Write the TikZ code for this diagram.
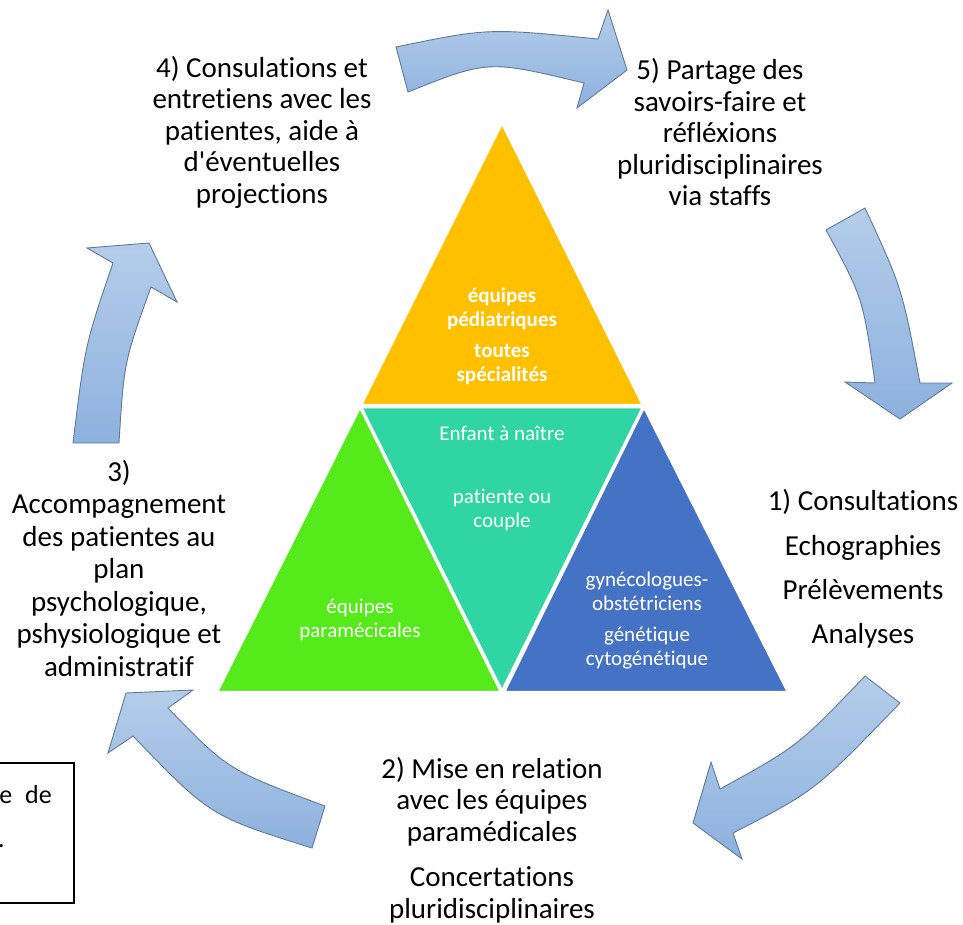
\documentclass[tikz,border=0pt]{standalone}
\usepackage{fontspec}
\setmainfont{Carlito}[Ligatures=TeXOff, RawFeature={-liga;-clig;-calt;-dlig}]
\definecolor{arrtop}{HTML}{B4CDEA}
\definecolor{arrbot}{HTML}{8DB1DE}
\definecolor{arrline}{HTML}{5F7A99}
\definecolor{tyellow}{HTML}{FFC000}
\definecolor{tteal}{HTML}{2FD6A3}
\definecolor{tgreen}{HTML}{55EB1B}
\definecolor{tblue}{HTML}{4472C4}
\begin{document}
\begin{tikzpicture}[x=1pt,y=-1pt,
  blockarrow/.style={top color=arrtop, bottom color=arrbot, draw=arrline, line width=0.9pt, line join=miter},
  tri/.style={draw=white, line width=2.5pt, line join=miter},
  maintext/.style={align=center, text=black, font=\fontsize{29}{31.5}\selectfont, inner sep=0pt},
  tritext/.style={align=center, text=white, font=\fontsize{21}{24}\selectfont, inner sep=0pt}]
\useasboundingbox (0,0) rectangle (963,924);
\fill[white] (0,0) rectangle (963,924);

% triangles
\filldraw[tri, fill=tyellow] (502,123) -- (361,405) -- (643,405) -- cycle;
\filldraw[tri, fill=tteal] (361,407) -- (643,407) -- (502,691) -- cycle;
\filldraw[tri, fill=tgreen] (360,407) -- (217,692) -- (501,692) -- cycle;
\filldraw[tri, fill=tblue] (644,407) -- (504,692) -- (788,692) -- cycle;

% triangle texts
\node[tritext, font=\fontsize{21}{24}\selectfont\bfseries] (ty) at (502,336) {équipes\\pédiatriques\\[7pt]toutes\\spécialités};
\node[tritext] (tt1) at (502,433) {Enfant à naître};
\node[tritext] (tt2) at (502,510) {patiente ou\\couple};
\node[tritext] (tg) at (360,620) {équipes\\paramécicales};
\node[tritext] (tb) at (647,621) {gynécologues-\\obstétriciens\\[7pt]génétique\\cytogénétique};

% arrows
\draw[blockarrow] (396,47) .. controls (488,28) .. (598,39) -- (608,10) -- (627,70) -- (577,108) -- (584,83) .. controls (488,60) .. (408,92) -- cycle;
\draw[blockarrow] (826,230) -- (865,208) .. controls (902,288) .. (920,383) -- (952,383) -- (900,419) -- (845,382) -- (875,383) .. controls (863,298) .. (826,230) -- cycle;
\draw[blockarrow] (865,676) -- (900,703) .. controls (815,791) .. (733,833) -- (742,859) -- (693,823) -- (711,762) -- (720,789) .. controls (798,746) .. (865,676) -- cycle;
\draw[blockarrow] (325,806) -- (312,848) .. controls (210,816) .. (133,736) -- (108,753) -- (126,693) -- (193,690) -- (168,708) .. controls (228,770) .. (325,806) -- cycle;
\draw[blockarrow] (73,443) -- (119,443) .. controls (124,362) .. (151,287) -- (177,302) -- (149,243) -- (87,248) -- (113,263) .. controls (85,345) .. (73,443) -- cycle;

% main texts
\node[maintext] (t4) at (262,132) {4) Consulations et\\entretiens avec les\\patientes, aide à\\d'éventuelles\\projections};
\node[maintext] (t5) at (720,132) {5) Partage des\\savoirs-faire et\\réfléxions\\pluridisciplinaires\\via staffs};
\node[maintext, font=\fontsize{29}{44.3}\selectfont] (t1) at (863,569) {1) Consultations\\Echographies\\Prélèvements\\Analyses};
\node[maintext] (t2) at (492,840) {2) Mise en relation\\avec les équipes\\paramédicales\\[14pt]Concertations\\pluridisciplinaires};
\node[maintext, font=\fontsize{29}{32.5}\selectfont] (t3) at (119,568) {3)\\Accompagnement\\des patientes au\\plan\\psychologique,\\pshysiologique et\\administratif};

% cut box at bottom left
\draw[black, line width=1.3pt] (-5,763) -- (74,763) -- (74,903) -- (-5,903);
\node[maintext, anchor=east, font=\fontsize{26}{30}\selectfont] (bx1) at (52,795) {e\hspace{0.5em}de};
\node[maintext, anchor=east, font=\fontsize{26}{30}\selectfont] (bx2) at (5,846) {.};
\end{tikzpicture}
\end{document}
